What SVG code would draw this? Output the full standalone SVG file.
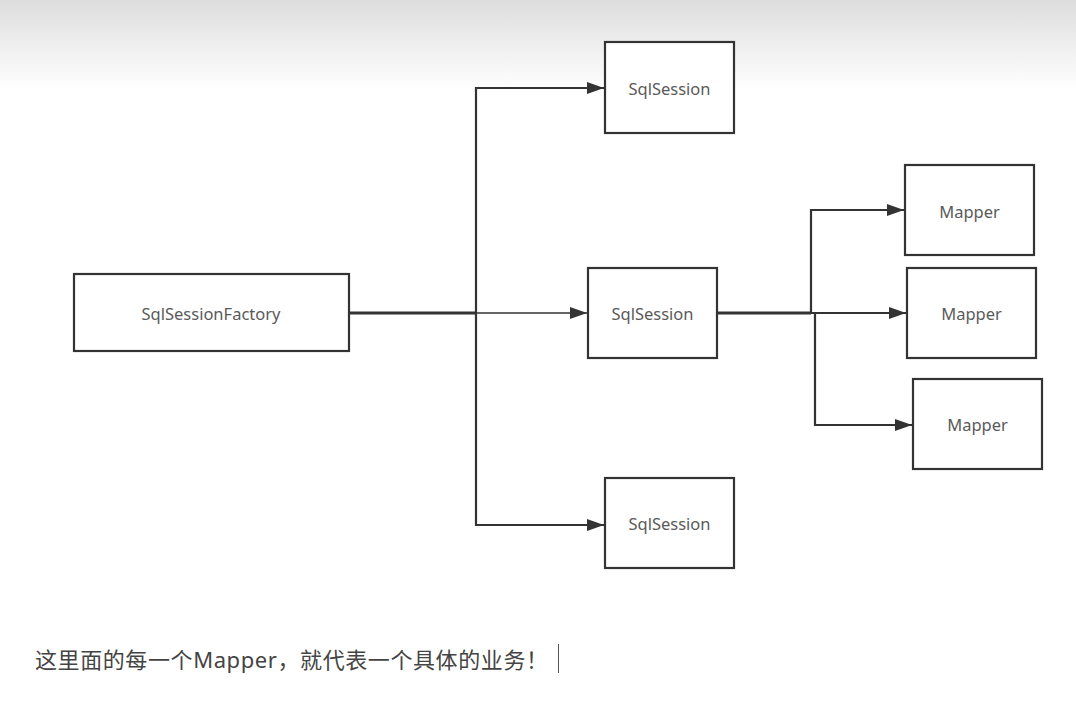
<svg xmlns="http://www.w3.org/2000/svg" width="1076" height="706" viewBox="0 0 1076 706">
<defs>
<linearGradient id="topg" x1="0" y1="0" x2="0" y2="1">
<stop offset="0" stop-color="#dddddd"/>
<stop offset="0.4" stop-color="#ebebeb"/>
<stop offset="1" stop-color="#ffffff"/>
</linearGradient>
<marker id="arr" markerUnits="userSpaceOnUse" markerWidth="18" markerHeight="14" refX="17" refY="7" orient="auto">
<path d="M0,1 L17,7 L0,13 Z" fill="#333"/>
</marker>
<style>
.box{fill:#fff;stroke:#333;stroke-width:2.2}
.lbl{font-family:"Noto Sans","Open Sans","Liberation Sans",sans-serif;font-size:16.5px;fill:#5a5a5a;text-anchor:middle;dominant-baseline:central}
.ln{fill:none;stroke:#333;stroke-width:2.2}
</style>
</defs>
<rect x="0" y="0" width="1076" height="706" fill="#fff"/>
<rect x="0" y="0" width="1076" height="90" fill="url(#topg)"/>
<g id="connectors">
<path class="ln" d="M349,313 H476" style="stroke-width:3"/>
<path class="ln" d="M476,313 V88 H604" marker-end="url(#arr)"/>
<path class="ln" d="M476,313 H587" style="stroke-width:1.6" marker-end="url(#arr)"/>
<path class="ln" d="M476,313 V525 H604" marker-end="url(#arr)"/>
<path class="ln" d="M717,313 H811" style="stroke-width:3"/>
<path class="ln" d="M811,313 V210 H904" marker-end="url(#arr)"/>
<path class="ln" d="M811,313 H906" marker-end="url(#arr)"/>
<path class="ln" d="M815,313 V425 H912" marker-end="url(#arr)"/>
</g>
<g id="factory"><rect class="box" x="74" y="274" width="275" height="77"/><text class="lbl" x="211" y="313">SqlSessionFactory</text></g>
<g id="session1"><rect class="box" x="605" y="42" width="129" height="91"/><text class="lbl" x="669.5" y="88">SqlSession</text></g>
<g id="session2"><rect class="box" x="588" y="268" width="129" height="90"/><text class="lbl" x="652.5" y="313">SqlSession</text></g>
<g id="session3"><rect class="box" x="605" y="478" width="129" height="90"/><text class="lbl" x="669.5" y="523">SqlSession</text></g>
<g id="mapper1"><rect class="box" x="905" y="165" width="129" height="90"/><text class="lbl" x="969.5" y="211">Mapper</text></g>
<g id="mapper2"><rect class="box" x="907" y="268" width="129" height="90"/><text class="lbl" x="971.5" y="313">Mapper</text></g>
<g id="mapper3"><rect class="box" x="913" y="379" width="129" height="90"/><text class="lbl" x="977.5" y="424">Mapper</text></g>
<g id="caption">
<text x="35" y="668" textLength="513" lengthAdjust="spacing" style="font-family:'Noto Sans','Noto Sans CJK SC',sans-serif;font-size:22px;fill:#444">这里面的每一个Mapper，就代表一个具体的业务！</text>
<line x1="558.5" y1="644" x2="558.5" y2="673" stroke="#555" stroke-width="1"/>
</g>
</svg>
